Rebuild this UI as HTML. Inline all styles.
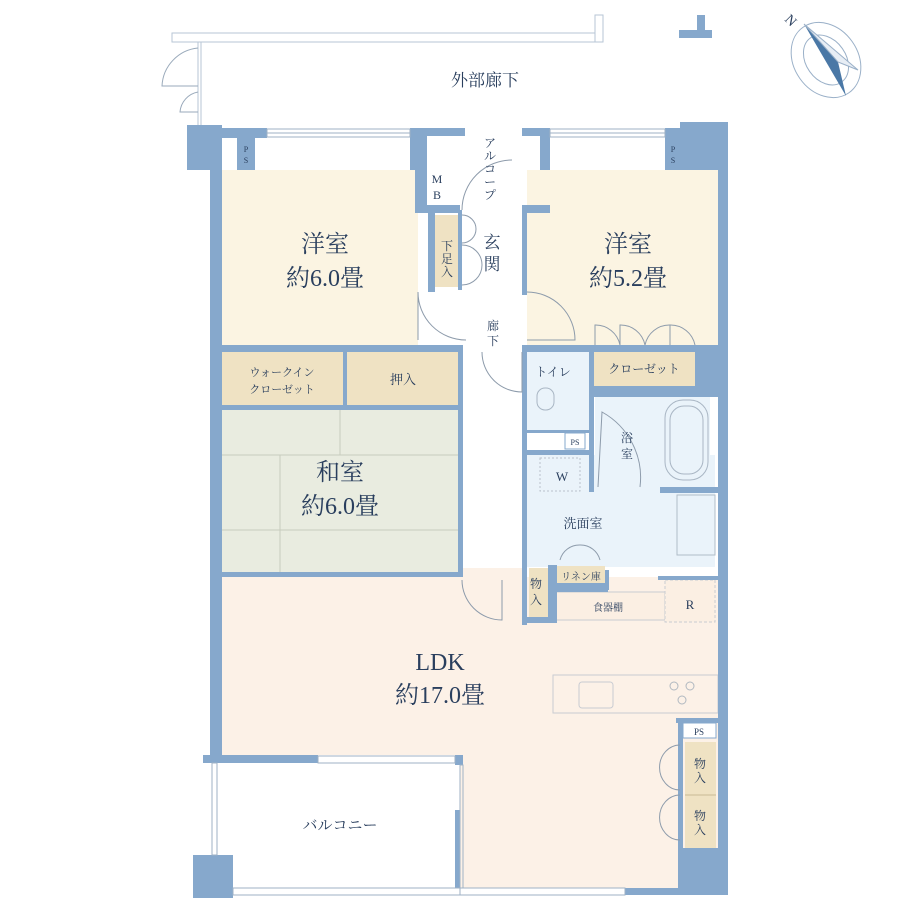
<!DOCTYPE html>
<html><head><meta charset="utf-8"><style>
html,body{margin:0;padding:0;background:#fff}
svg{display:block}
text{font-family:"Liberation Serif","Noto Serif CJK SC",serif;fill:#2a3f5e}
</style></head><body>
<svg width="920" height="920" viewBox="0 0 920 920" xmlns="http://www.w3.org/2000/svg">
<rect x="172" y="33" width="430" height="9" fill="#fff" stroke="#b7c6d6" stroke-width="1"/>
<rect x="595" y="15" width="8" height="27" fill="#fff" stroke="#b7c6d6"/>
<line x1="198" y1="42" x2="198" y2="125" stroke="#b7c6d6"/>
<line x1="201" y1="42" x2="201" y2="125" stroke="#b7c6d6"/>
<path d="M198 48 A40 40 0 0 0 162 86 L198 86" fill="none" stroke="#9aaabb"/>
<path d="M198 92 A22 22 0 0 0 180 112 L198 112" fill="none" stroke="#9aaabb"/>
<text x="485" y="86" font-size="17" text-anchor="middle">外部廊下</text>
<path d="M679 38 V30 H697 V15 H705 V30 H712 V38 Z" fill="#86a8cc"/>
<g transform="translate(826,60)">
<ellipse cx="0" cy="0" rx="32" ry="40" transform="rotate(-35)" fill="none" stroke="#9ab0c8"/>
<ellipse cx="0" cy="0" rx="20" ry="27" transform="rotate(-35)" fill="none" stroke="#9ab0c8"/>
<polygon points="-22,-36 20,36 12,2" fill="#4a78a6"/>
<polygon points="12,2 32,10 -22,-36" fill="#e8eef5" stroke="#9ab0c8"/>
<text x="-42" y="-40" font-size="14" transform="rotate(45 -42 -40)" fill="#4a78a6">N</text>
</g>
<rect x="222" y="170" width="196" height="177" fill="#fbf4e2"/>
<rect x="527" y="170" width="191" height="177" fill="#fbf4e2"/>
<rect x="222" y="410" width="238" height="162" fill="#e9ece0"/>
<line x1="222" y1="455" x2="460" y2="455" stroke="#c8ccbe"/>
<line x1="222" y1="530" x2="460" y2="530" stroke="#c8ccbe"/>
<line x1="340" y1="410" x2="340" y2="455" stroke="#c8ccbe"/>
<line x1="280" y1="455" x2="280" y2="572" stroke="#c8ccbe"/>
<rect x="222" y="352" width="121" height="53" fill="#efe2c3"/>
<rect x="347" y="352" width="113" height="53" fill="#efe2c3"/>
<rect x="435" y="215" width="23" height="72" fill="#efe2c3"/>
<rect x="593" y="352" width="102" height="34" fill="#efe2c3"/>
<rect x="527" y="352" width="62" height="80" fill="#eaf3fa"/>
<rect x="595" y="397" width="115" height="92" fill="#eaf3fa"/>
<rect x="527" y="455" width="188" height="112" fill="#eaf3fa"/>
<rect x="463" y="568" width="60" height="10" fill="#fcf1e7"/>
<rect x="222" y="577" width="496" height="178" fill="#fcf1e7"/>
<rect x="460" y="755" width="258" height="133" fill="#fcf1e7"/>
<rect x="557" y="566" width="48" height="20" fill="#efe2c3"/>
<rect x="529" y="568" width="19" height="52" fill="#efe2c3"/>
<rect x="553" y="592" width="112" height="28" fill="#fbefe3" stroke="#c9ccd2"/>
<rect x="665" y="580" width="50" height="42" fill="#fbefe3" stroke="#c9ccd2" stroke-dasharray="3 2"/>
<rect x="685" y="742" width="31" height="106" fill="#efe2c3"/>
<line x1="685" y1="795" x2="716" y2="795" stroke="#c9b994"/>
<rect x="683" y="723" width="33" height="15" fill="#fff" stroke="#86a8cc"/>
<rect x="553" y="675" width="165" height="38" fill="#fcf1e7" stroke="#c9ccd2"/>
<rect x="579" y="682" width="34" height="26" rx="3" fill="none" stroke="#c9ccd2"/>
<circle cx="674" cy="686" r="4" fill="none" stroke="#b0b8c0"/><circle cx="690" cy="686" r="4" fill="none" stroke="#b0b8c0"/><circle cx="682" cy="700" r="4" fill="none" stroke="#b0b8c0"/>
<rect x="665" y="400" width="43" height="80" rx="18" fill="none" stroke="#a9b6c4"/>
<rect x="670" y="406" width="33" height="68" rx="14" fill="none" stroke="#a9b6c4"/>
<rect x="537" y="388" width="17" height="22" rx="8" fill="none" stroke="#a9b6c4"/>
<rect x="527" y="433" width="34" height="17" fill="#fff"/>
<rect x="565" y="433" width="20" height="16" fill="#fff" stroke="#86a8cc"/>
<rect x="540" y="458" width="40" height="33" fill="none" stroke="#b9c2cc" stroke-dasharray="2 2"/>
<rect x="677" y="495" width="38" height="60" fill="none" stroke="#b0bcc8"/>
<g fill="#86a8cc">
<rect x="187" y="125" width="35" height="45"/>
<rect x="210" y="125" width="12" height="637"/>
<rect x="222" y="128" width="45" height="10"/>
<rect x="237" y="138" width="18" height="32"/>
<rect x="410" y="128" width="10" height="42"/>
<rect x="415" y="128" width="50" height="8"/>
<rect x="415" y="128" width="12" height="82"/>
<rect x="415" y="205" width="45" height="8"/>
<rect x="428" y="210" width="7" height="82"/>
<rect x="458" y="210" width="4" height="80"/>
<rect x="522" y="128" width="25" height="8"/>
<rect x="540" y="128" width="10" height="42"/>
<rect x="522" y="205" width="28" height="8"/>
<rect x="522" y="205" width="5" height="90"/>
<rect x="665" y="128" width="15" height="42"/>
<rect x="680" y="122" width="48" height="48"/>
<rect x="718" y="128" width="10" height="767"/>
<rect x="222" y="345" width="238" height="7"/>
<rect x="343" y="352" width="4" height="53"/>
<rect x="222" y="405" width="238" height="5"/>
<rect x="458" y="345" width="5" height="228"/>
<rect x="222" y="572" width="241" height="5"/>
<rect x="522" y="345" width="5" height="280"/>
<rect x="522" y="345" width="196" height="7"/>
<rect x="589" y="352" width="5" height="140"/>
<rect x="593" y="386" width="125" height="11"/>
<rect x="695" y="352" width="23" height="34"/>
<rect x="527" y="430" width="67" height="3"/>
<rect x="527" y="450" width="67" height="5"/>
<rect x="660" y="487" width="58" height="6"/>
<rect x="548" y="565" width="9" height="55"/>
<rect x="522" y="617" width="35" height="6"/>
<rect x="548" y="583" width="60" height="9"/>
<rect x="605" y="570" width="4" height="20"/>
<rect x="658" y="576" width="60" height="4"/>
<rect x="676" y="718" width="42" height="5"/>
<rect x="678" y="718" width="5" height="130"/>
<rect x="678" y="848" width="40" height="47"/>
<rect x="203" y="755" width="115" height="8"/>
<rect x="455" y="755" width="8" height="10"/>
<rect x="455" y="810" width="5" height="78"/>
<rect x="193" y="855" width="40" height="43"/>
<rect x="625" y="888" width="103" height="7"/>
</g>
<g fill="none" stroke="#9fb2c6">
<rect x="267" y="129" width="143" height="8"/><line x1="267" y1="133" x2="410" y2="133"/>
<rect x="550" y="129" width="115" height="8"/><line x1="550" y1="133" x2="665" y2="133"/>
<rect x="318" y="756" width="137" height="7"/>
<rect x="460" y="888" width="165" height="7"/>
<rect x="233" y="888" width="227" height="7"/>
<rect x="212" y="763" width="5" height="92"/>
<rect x="460" y="765" width="3" height="123"/>
</g>
<g fill="none" stroke="#8d9bab">
<path d="M462 210 A50 50 0 0 1 512 160"/>
<path d="M418 340 V292 A48 48 0 0 0 466 340"/>
<path d="M527 292 A48 48 0 0 1 575 340 H527"/>
<path d="M482 352 A40 40 0 0 0 522 392 V352"/>
<path d="M462 580 A40 40 0 0 0 502 620 V580"/>
<path d="M595 345 V325 A25 25 0 0 1 620 345 M645 345 A25 25 0 0 0 620 325 V345 M645 345 A25 25 0 0 1 670 325 V345 M695 345 A25 25 0 0 0 670 325"/>
<path d="M598 487 L602 412 A75 75 0 0 1 640 487"/>
<path d="M560 560 A20 20 0 0 1 580 545 M580 545 A20 20 0 0 1 600 560"/>
<path d="M680 745 A20 22 0 0 0 680 790 M680 795 A20 22 0 0 0 680 840"/>
<path d="M462 215 A14 14 0 0 1 462 243 M462 245 A14 14 0 0 1 462 285"/>
</g>
<text x="325" y="252" font-size="24" text-anchor="middle">洋室</text>
<text x="325" y="286" font-size="24" text-anchor="middle">約6.0畳</text>
<text x="628" y="252" font-size="24" text-anchor="middle">洋室</text>
<text x="628" y="286" font-size="24" text-anchor="middle">約5.2畳</text>
<text x="340" y="480" font-size="24" text-anchor="middle">和室</text>
<text x="340" y="514" font-size="24" text-anchor="middle">約6.0畳</text>
<text x="440" y="670" font-size="24" text-anchor="middle">LDK</text>
<text x="440" y="703" font-size="24" text-anchor="middle">約17.0畳</text>
<text x="340" y="830" font-size="15" text-anchor="middle">バルコニー</text>
<text x="437" y="183" font-size="12" text-anchor="middle">M</text>
<text x="437" y="199" font-size="12" text-anchor="middle">B</text>
<text x="246" y="152" font-size="8" text-anchor="middle">P</text>
<text x="246" y="163" font-size="8" text-anchor="middle">S</text>
<text x="673" y="152" font-size="8" text-anchor="middle">P</text>
<text x="673" y="163" font-size="8" text-anchor="middle">S</text>
<g font-size="12" text-anchor="middle">
<text x="490" y="147">ア</text><text x="490" y="160">ル</text><text x="490" y="173">コ</text><text x="490" y="186">ー</text><text x="490" y="199">プ</text>
<text x="447" y="250">下</text><text x="447" y="263">足</text><text x="447" y="276">入</text>
<text x="493" y="330">廊</text><text x="493" y="345">下</text>
<text x="536" y="588">物</text><text x="536" y="604">入</text>
<text x="700" y="768">物</text><text x="700" y="782">入</text>
<text x="700" y="820">物</text><text x="700" y="834">入</text>
<text x="627" y="442">浴</text><text x="627" y="458">室</text>
</g>
<text x="492" y="248" font-size="17" text-anchor="middle">玄</text>
<text x="492" y="270" font-size="17" text-anchor="middle">関</text>
<text x="282" y="376" font-size="11" text-anchor="middle">ウォークイン</text>
<text x="282" y="393" font-size="11" text-anchor="middle">クローゼット</text>
<text x="403" y="384" font-size="13" text-anchor="middle">押入</text>
<text x="644" y="373" font-size="12" text-anchor="middle">クローゼット</text>
<text x="553" y="376" font-size="12" text-anchor="middle">トイレ</text>
<text x="575" y="445" font-size="8" text-anchor="middle">PS</text>
<text x="562" y="481" font-size="13" text-anchor="middle">W</text>
<text x="583" y="528" font-size="13" text-anchor="middle">洗面室</text>
<text x="581" y="580" font-size="10" text-anchor="middle">リネン庫</text>
<text x="608" y="611" font-size="10" text-anchor="middle">食器棚</text>
<text x="690" y="609" font-size="13" text-anchor="middle">R</text>
<text x="699" y="735" font-size="9" text-anchor="middle">PS</text>
</svg>
</body></html>
